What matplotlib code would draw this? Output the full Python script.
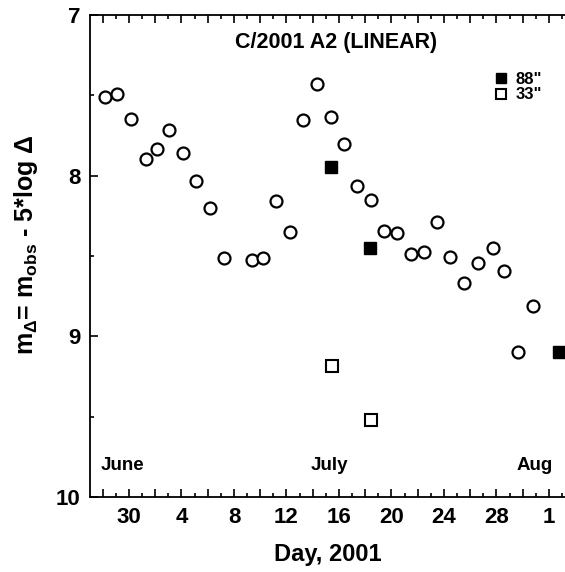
import matplotlib
matplotlib.use('Agg')
import matplotlib.pyplot as plt
from matplotlib.ticker import MultipleLocator, FuncFormatter

plt.rcParams['font.family'] = ['Liberation Sans', 'DejaVu Sans']
plt.rcParams['font.weight'] = 'bold'
plt.rcParams['axes.labelweight'] = 'bold'
plt.rcParams['mathtext.fontset'] = 'custom'
plt.rcParams['mathtext.rm'] = 'Liberation Sans:bold'
plt.rcParams['mathtext.it'] = 'Liberation Sans:bold'
plt.rcParams['mathtext.bf'] = 'Liberation Sans:bold'
plt.rcParams['mathtext.default'] = 'bf'

# day counted from June 30 (=0); July d = d, Aug 1 = 32
circ_day = [-1.83, -0.94, 0.13, 1.27, 2.11, 3.05, 4.14, 5.08, 6.17, 7.24, 9.35, 10.23,
            11.18, 12.27, 13.23, 14.35, 15.39, 16.38, 17.35, 18.42, 19.43, 20.44,
            21.46, 22.48, 23.49, 24.46, 25.52, 26.61, 27.76, 28.59, 29.66, 30.8]
circ_mag = [7.51, 7.49, 7.645, 7.896, 7.834, 7.716, 7.861, 8.033, 8.203, 8.514, 8.525, 8.514,
            8.157, 8.352, 7.653, 7.431, 7.633, 7.803, 8.062, 8.151, 8.344, 8.358,
            8.489, 8.473, 8.29, 8.504, 8.67, 8.545, 8.448, 8.593, 9.099, 8.809]
ap88_day = [15.39, 18.36, 32.76]
ap88_mag = [7.948, 8.452, 9.099]
ap33_day = [15.44, 18.44]
ap33_mag = [9.182, 9.52]

tick_days = [0, 4, 8, 12, 16, 20, 24, 28, 32]
tick_labels = ['30', '4', '8', '12', '16', '20', '24', '28', '1']
lab_map = dict(zip(tick_days, tick_labels))

fig = plt.figure(figsize=(5.65, 5.72), dpi=100)
ax = fig.add_axes([90/565, 75/572, 475/565, 482/572])

ax.plot(circ_day, circ_mag, 'o', mfc='white', mec='black', mew=1.6, ms=8.6, ls='none')
ax.plot(ap88_day, ap88_mag, 's', mfc='black', mec='black', ms=9.3, ls='none', label='88"')
ax.plot(ap33_day, ap33_mag, 's', mfc='white', mec='black', mew=1.5, ms=8.2, ls='none', label='33"')

ax.set_xlim(-2.97, 33.22)
ax.set_ylim(10, 7)

ax.xaxis.set_major_locator(MultipleLocator(2))
ax.xaxis.set_minor_locator(MultipleLocator(1))
ax.xaxis.set_major_formatter(FuncFormatter(lambda v, p: lab_map.get(int(round(v)), '')))
ax.yaxis.set_major_locator(MultipleLocator(1))
ax.yaxis.set_minor_locator(MultipleLocator(0.5))

ax.tick_params(which='both', direction='in', top=True, right=False, labelsize=16, width=1.2)
ax.tick_params(which='major', length=6, pad=7)
ax.tick_params(which='minor', length=3)
ax.spines['right'].set_visible(False)
for s in ['left', 'bottom', 'top']:
    ax.spines[s].set_linewidth(1.3)

ax.set_xlabel('Day, 2001', fontsize=17, labelpad=11)
ax.set_ylabel(r'm$_{\Delta}$= m$_{obs}$ - 5*log $\mathrm{\Delta}$', fontsize=18)
ax.yaxis.set_label_coords(-0.105, 0.523)

ax.text(0.518, 0.942, 'C/2001 A2 (LINEAR)', transform=ax.transAxes, ha='center', va='center', fontsize=15.5)
ax.text(0.068, 0.066, 'June', transform=ax.transAxes, ha='center', va='center', fontsize=13.5)
ax.text(0.505, 0.066, 'July', transform=ax.transAxes, ha='center', va='center', fontsize=13.5)
ax.text(0.937, 0.066, 'Aug', transform=ax.transAxes, ha='center', va='center', fontsize=13.5)

ax.legend(loc='upper left', bbox_to_anchor=(0.833, 0.9), frameon=False, fontsize=12,
          handlelength=0.8, handletextpad=0.5, labelspacing=0.05, borderpad=0, markerscale=0.85)

fig.savefig('out.png', dpi=100)
